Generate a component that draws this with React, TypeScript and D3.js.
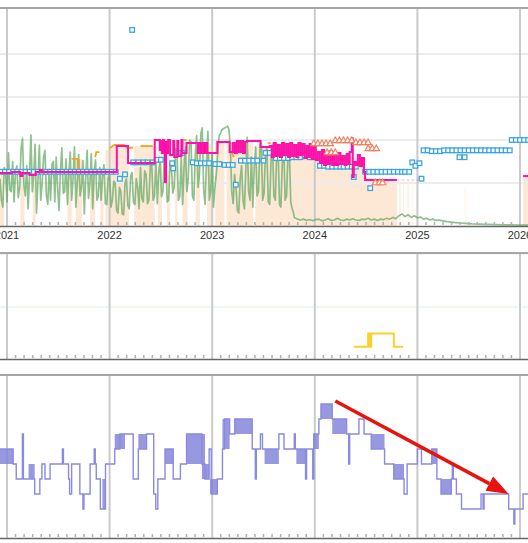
import React from 'react';
import * as d3 from 'd3';

type P = [number, number];

const yearTicks = [2021, 2022, 2023, 2024, 2025, 2026];
const yearLabels = ['2021', '2022', '2023', '2024', '2025', '2026'];
const topGridValues = [50, 100, 150, 200];
const midGridValues = [1, 2];

// green series: 5-day samples
const greenStartYear = 2020.932;
const greenStepDays = 5;
const greenValues = [
  55, 30, 22, 68, 60, 28, 85, 42, 40, 75, 28, 62, 70, 33, 45, 90, 102, 48, 35, 70, 20, 58, 106, 40, 60, 95, 15, 52, 94, 30, 50, 80, 88, 36, 25, 66, 30, 72, 75, 28,
  80, 45, 18, 64, 91, 38, 40, 78, 25, 60, 86, 30, 55, 92, 22, 50, 83, 35, 45, 76, 14, 55, 88, 32, 50, 84, 20, 62, 77, 30, 35, 68, 30, 58, 71, 26, 25, 56,
  60, 22, 30, 52, 50, 18, 15, 45, 40, 14, 13, 50, 55, 24, 20, 58, 62, 28, 25, 55, 45, 20, 68, 32, 28, 64, 60, 26, 30, 70, 72, 30, 35, 78, 26, 62, 75, 34,
  40, 84, 80, 28, 30, 72, 70, 38, 45, 90, 88, 30, 35, 80, 25, 68, 92, 40, 55, 100, 98, 35, 30, 82, 105, 45, 60, 108, 114, 42, 25, 75, 110, 30, 40, 85,
  22, 45, 60, 85, 105, 108, 112, 113, 114, 115, 116, 112, 90, 40, 26, 60, 45, 18, 15, 55, 70, 30, 20, 65, 103, 40, 30, 80, 22, 70, 92, 35, 40, 88, 98, 30,
  38, 85, 90, 28, 25, 78, 95, 35, 30, 86, 88, 25, 22, 75, 92, 30, 35, 82, 85, 28, 20, 15,
];
const greenTail: P[] = [
  [2023.80, 10], [2023.83, 8], [2023.86, 7], [2023.89, 8], [2023.92, 6.5], [2023.95, 7.5], [2023.98, 6], [2024.01, 7.5], [2024.04, 8], [2024.07, 6],
  [2024.10, 7], [2024.13, 8.5], [2024.16, 6.5], [2024.19, 7], [2024.22, 9], [2024.25, 7], [2024.28, 6.5], [2024.31, 8], [2024.34, 7], [2024.37, 8.5],
  [2024.40, 7], [2024.43, 6.5], [2024.46, 8], [2024.49, 7.5], [2024.52, 9], [2024.55, 7], [2024.58, 8], [2024.61, 6.5], [2024.64, 8], [2024.67, 7.5],
  [2024.70, 9], [2024.73, 8], [2024.76, 10], [2024.79, 8.5], [2024.82, 12], [2024.85, 14], [2024.88, 11], [2024.91, 13], [2024.94, 10], [2024.97, 12],
  [2025.00, 9.5], [2025.03, 10.5], [2025.06, 8], [2025.09, 9], [2025.12, 7], [2025.15, 8], [2025.18, 6.5], [2025.21, 7], [2025.25, 6], [2025.29, 5],
  [2025.33, 4.5], [2025.37, 4], [2025.42, 3.5], [2025.47, 3], [2025.53, 2.5], [2025.60, 2.2], [2025.68, 1.8], [2025.76, 1.5], [2025.84, 1.3], [2025.92, 1.2],
  [2026.00, 1], [2026.08, 1],
];

const peachSteps: P[] = [
  [2020.93, 63], [2020.97, 0], [2021.13, 63], [2021.17, 0], [2021.25, 63], [2021.28, 0], [2021.59, 63], [2021.63, 0],
  [2021.67, 78], [2021.73, 0], [2021.81, 63], [2021.86, 0], [2021.91, 63], [2021.94, 0],
  [2021.96, 88], [2022.00, 91], [2022.05, 94], [2022.17, 91], [2022.19, 0], [2022.24, 93], [2022.44, 0],
  [2022.47, 100], [2022.51, 0], [2022.56, 100], [2022.59, 0], [2022.64, 100], [2022.66, 0], [2022.71, 100], [2022.76, 0],
  [2022.84, 96], [2022.88, 0], [2022.95, 96], [2023.00, 0], [2023.03, 97], [2023.12, 0], [2023.14, 97], [2023.40, 0],
  [2023.42, 92], [2024.01, 80], [2024.49, 53.5], [2024.80, 0], [2026.03, 58], [2026.08, 58],
];
const peachFaintSteps: P[] = [
  [2024.80, 0], [2024.82, 53.5], [2024.84, 0], [2024.86, 53.5], [2024.87, 0], [2024.90, 53.5], [2024.92, 0], [2024.95, 53.5], [2024.96, 0],
  [2025.46, 45], [2025.47, 0], [2025.50, 0],
];

const orangeSegments: P[][] = [
  [[2021.63, 78], [2021.69, 78], [2021.69, 63]],
  [[2021.86, 80], [2021.87, 86], [2021.90, 86]],
  [[2022.00, 90.7], [2022.05, 94.2], [2022.14, 94.2], [2022.17, 91], [2022.23, 91]],
  [[2022.30, 93], [2022.42, 93]],
  [[2022.72, 100], [2022.75, 100]],
  [[2023.19, 85], [2023.21, 80]],
  [[2023.31, 96.5], [2023.33, 96.5]],
  [[2023.54, 96.5], [2023.57, 96.5]],
  [[2024.35, 86], [2024.37, 86]],
  [[2024.45, 74], [2024.47, 71]],
];

const pinkSegments: P[][] = [
  [
    [2020.93, 61.6], [2021.05, 62.8], [2021.13, 58.1], [2021.15, 61.6], [2021.22, 59.3], [2021.28, 62.8], [2021.32, 65.1], [2021.34, 62.8],
    [2022.07, 93], [2022.18, 73.3], [2022.44, 100], [2022.49, 88.4], [2022.50, 98.8], [2022.51, 84.9], [2022.52, 100], [2022.53, 84.9],
    [2022.54, 51.2], [2022.55, 97.7], [2022.56, 84.9], [2022.57, 100], [2022.59, 82.6], [2022.62, 98.8], [2022.63, 80.2], [2022.66, 98.8],
    [2022.67, 81.4], [2022.70, 100], [2022.71, 84.9], [2022.75, 96.5], [2022.86, 84.9], [2022.87, 96.5], [2022.89, 84.9], [2022.90, 96.5],
    [2022.92, 84.9], [2022.93, 96.5], [2022.95, 84.9], [2023.05, 97.7], [2023.17, 86], [2023.20, 96.5], [2023.22, 84.9], [2023.24, 98.8],
    [2023.26, 86], [2023.28, 98.8], [2023.30, 84.9], [2023.32, 97.7], [2023.34, 98.8], [2023.47, 91.9], [2023.56, 93],
    [2023.58, 80.2], [2023.60, 96.5], [2023.62, 81.4], [2023.64, 94.2], [2023.66, 80.2], [2023.68, 96.5], [2023.70, 82.6], [2023.72, 95.3],
    [2023.74, 80.2], [2023.76, 96.5], [2023.78, 81.4], [2023.80, 94.2], [2023.82, 80.2], [2023.84, 96.5], [2023.86, 82.6], [2023.88, 95.3],
    [2023.90, 79], [2023.92, 93], [2023.94, 80.2], [2023.95, 95.3], [2023.97, 77.9], [2023.99, 93], [2024.01, 76.7], [2024.03, 86],
    [2024.05, 73.3], [2024.07, 88.4], [2024.09, 70.9], [2024.11, 84.9], [2024.13, 72.1], [2024.15, 87.2], [2024.17, 70.9], [2024.19, 82.6],
    [2024.21, 70.9], [2024.23, 84.9], [2024.25, 72.1], [2024.27, 81.4], [2024.29, 70.9], [2024.31, 83.7], [2024.33, 72.1], [2024.34, 86],
    [2024.36, 102], [2024.37, 57], [2024.38, 74.4], [2024.40, 70.9], [2024.42, 82.6], [2024.44, 69.8], [2024.46, 79], [2024.48, 62.8],
    [2024.49, 53.5], [2024.80, 53.5],
  ],
  [[2026.03, 58.1], [2026.08, 58.1]],
];
const pinkFaint: P[] = [[2024.80, 53.5], [2025.04, 53.5]];

const blueSquares: P[] = [
  [2020.94, 63], [2020.98, 63], [2021.02, 63], [2021.06, 63], [2021.10, 63], [2021.14, 63], [2021.18, 63], [2021.22, 63], [2021.26, 63], [2021.30, 63],
  [2021.34, 63], [2021.38, 63], [2021.42, 63], [2021.46, 63], [2021.50, 63], [2021.54, 63], [2021.58, 63], [2021.62, 63], [2021.66, 63], [2021.70, 63],
  [2021.74, 63], [2021.78, 63], [2021.82, 63], [2021.86, 63], [2021.90, 63], [2021.94, 63], [2021.98, 63], [2022.02, 63], [2022.06, 63],
  [2022.10, 55], [2022.15, 60], [2022.22, 228],
  [2022.23, 74], [2022.28, 74], [2022.33, 74], [2022.37, 74], [2022.42, 74], [2022.46, 77], [2022.50, 77],
  [2022.61, 73], [2022.62, 67], [2022.67, 85], [2022.71, 85],
  [2022.81, 74], [2022.85, 73], [2022.89, 73], [2022.93, 73], [2022.97, 73],
  [2023.03, 72], [2023.07, 72], [2023.12, 71], [2023.16, 71], [2023.20, 71], [2023.23, 48],
  [2023.28, 76], [2023.32, 76], [2023.36, 76], [2023.40, 76], [2023.44, 76], [2023.50, 76], [2023.52, 85], [2023.56, 85],
  [2023.62, 79], [2023.66, 79], [2023.70, 79], [2023.74, 79], [2023.78, 80], [2023.82, 80], [2023.86, 80], [2023.90, 82], [2023.95, 80], [2023.99, 80],
  [2024.05, 70], [2024.09, 70], [2024.13, 69], [2024.17, 69], [2024.21, 69], [2024.25, 69], [2024.28, 69], [2024.32, 69], [2024.36, 69], [2024.40, 69],
  [2024.38, 57],
  [2024.49, 63], [2024.53, 63], [2024.57, 63], [2024.61, 63], [2024.65, 63], [2024.69, 63], [2024.73, 63], [2024.77, 63], [2024.81, 63], [2024.85, 63],
  [2024.88, 63], [2024.92, 63], [2024.54, 44],
  [2024.95, 74], [2024.98, 70], [2025.02, 73], [2025.04, 55],
  [2025.06, 88], [2025.10, 88], [2025.14, 87], [2025.18, 87], [2025.22, 87], [2025.26, 88], [2025.30, 88], [2025.34, 88], [2025.38, 88], [2025.42, 88],
  [2025.46, 88], [2025.50, 88], [2025.54, 88], [2025.58, 88], [2025.62, 88], [2025.66, 88], [2025.70, 88], [2025.74, 88], [2025.78, 88], [2025.82, 88],
  [2025.86, 88], [2025.90, 88],
  [2025.41, 80], [2025.46, 80],
  [2025.92, 100], [2025.96, 100], [2026.00, 100], [2026.04, 100], [2026.08, 100],
];

const triangles: P[] = [
  [2023.99, 96.5], [2024.03, 96.5], [2024.07, 96.5], [2024.11, 96.5], [2024.15, 96.5],
  [2024.12, 86], [2024.16, 86], [2024.20, 86],
  [2024.20, 100], [2024.24, 100], [2024.28, 100], [2024.32, 100], [2024.36, 100],
  [2024.40, 97.7], [2024.44, 97.7], [2024.48, 97.7], [2024.52, 97.7],
  [2024.52, 90.7], [2024.56, 90.7], [2024.60, 90.7],
  [2024.59, 51], [2024.63, 51], [2024.66, 51],
];

const yellowSteps: P[] = [[2024.38, 0.25], [2024.52, 0.5], [2024.535, 0.25], [2024.55, 0.5], [2024.77, 0.25], [2024.86, 0.25]];

const purpleSteps: P[] = [
  [2020.93, 6], [2021.06, 5], [2021.09, 4], [2021.15, 7], [2021.16, 4], [2021.27, 3], [2021.32, 4], [2021.34, 5], [2021.37, 4], [2021.42, 5],
  [2021.54, 6], [2021.55, 5], [2021.60, 4], [2021.61, 3], [2021.63, 5], [2021.71, 3], [2021.74, 2], [2021.75, 3], [2021.81, 5], [2021.85, 6],
  [2021.86, 5], [2021.87, 4], [2021.91, 2], [2021.96, 5], [2022.05, 6], [2022.10, 7], [2022.23, 4], [2022.28, 6], [2022.36, 7], [2022.43, 3],
  [2022.45, 2], [2022.47, 4], [2022.54, 6], [2022.62, 4], [2022.69, 5], [2022.75, 7], [2022.90, 5], [2022.93, 4], [2022.97, 6], [2022.99, 3],
  [2023.05, 4], [2023.10, 6], [2023.12, 8], [2023.17, 7], [2023.22, 8], [2023.39, 6], [2023.42, 4], [2023.43, 6], [2023.47, 7], [2023.49, 6],
  [2023.65, 7], [2023.70, 6], [2023.80, 7], [2023.81, 6], [2023.91, 4], [2023.92, 6], [2023.98, 4], [2023.99, 7], [2024.04, 8], [2024.06, 9],
  [2024.17, 8], [2024.31, 7], [2024.33, 5], [2024.34, 7], [2024.43, 8], [2024.48, 7], [2024.55, 6], [2024.68, 5], [2024.77, 4], [2024.87, 3],
  [2024.90, 5], [2025.00, 6], [2025.04, 5], [2025.14, 6], [2025.19, 4], [2025.23, 3], [2025.33, 4], [2025.34, 5], [2025.35, 4], [2025.38, 3],
  [2025.43, 2], [2025.62, 3], [2025.64, 2], [2025.65, 3], [2025.89, 2], [2025.94, 1], [2025.95, 2], [2026.03, 3], [2026.08, 3],
];
const purpleBlocks: [number, number, number, number][] = [
  [2020.93, 2021.06, 5, 6], [2021.21, 2021.27, 4, 5], [2021.93, 2021.96, 2, 4], [2022.05, 2022.15, 6, 7], [2022.28, 2022.36, 6, 7],
  [2022.54, 2022.62, 5, 6], [2022.75, 2022.93, 5, 7], [2022.90, 2022.97, 4, 5], [2022.98, 2023.05, 3, 4], [2023.10, 2023.17, 6, 8],
  [2023.22, 2023.39, 7, 8], [2023.51, 2023.65, 5, 6], [2023.82, 2023.92, 5, 6], [2023.99, 2024.04, 6, 7], [2024.06, 2024.17, 8, 9],
  [2024.17, 2024.31, 7, 8], [2024.55, 2024.68, 6, 7], [2024.77, 2024.87, 4, 5], [2025.14, 2025.19, 5, 6], [2025.23, 2025.33, 3, 4],
];
const arrowFrom: P = [2024.20, 9.2];
const arrowTo: P = [2025.89, 3.0];

export default function App() {
  const W = 528, H = 543;
  const x = d3.scaleLinear().domain([2021, 2026]).range([7, 520]);
  const yT = d3.scaleLinear().domain([0, 250]).range([226, 11]);
  const yM = d3.scaleLinear().domain([0, 2]).range([360, 254]);
  const yB = d3.scaleLinear().domain([0, 11]).range([539, 374]);

  const panels = [
    { id: 'pt', y0: 8, y1: 226 },
    { id: 'pm', y0: 253, y1: 359 },
    { id: 'pb', y0: 375, y1: 538 },
  ];

  const greenPts: P[] = greenValues
    .map((v, i) => [greenStartYear + (i * greenStepDays) / 365.25, v] as P)
    .concat(greenTail);

  const linT = d3.line<P>().x(d => x(d[0])).y(d => yT(d[1]));
  const stepT = d3.line<P>().x(d => x(d[0])).y(d => yT(d[1])).curve(d3.curveStepAfter);
  const areaT = d3.area<P>().x(d => x(d[0])).y0(yT(0)).y1(d => yT(d[1])).curve(d3.curveStepAfter);
  const stepM = d3.line<P>().x(d => x(d[0])).y(d => yM(d[1])).curve(d3.curveStepAfter);
  const stepB = d3.line<P>().x(d => x(d[0])).y(d => yB(d[1])).curve(d3.curveStepAfter);

  const minorTicks: number[] = [];
  for (let yr = 2020; yr <= 2026; yr++) {
    for (let m = 1; m < 12; m++) {
      const t = yr + m / 12;
      const px = x(t);
      if (px > 0 && px < W) minorTicks.push(t);
    }
  }

  const ax0 = x(arrowFrom[0]), ay0 = yB(arrowFrom[1]);
  const ax1 = x(arrowTo[0]), ay1 = yB(arrowTo[1]);
  const ang = Math.atan2(ay1 - ay0, ax1 - ax0);
  const headL = 22, headW = 8;
  const bx = ax1 - headL * Math.cos(ang), by = ay1 - headL * Math.sin(ang);
  const head = `M${ax1},${ay1}L${bx + headW * Math.sin(ang)},${by - headW * Math.cos(ang)}L${bx - headW * Math.sin(ang)},${by + headW * Math.cos(ang)}Z`;

  const font = "'Liberation Sans', Arial, sans-serif";

  return (
    <svg width={W} height={H} style={{ position: 'absolute', left: 0, top: 0, background: '#fff' }}>
      <defs>
        {panels.map(p => (
          <clipPath id={p.id} key={p.id}>
            <rect x={0} y={p.y0} width={W} height={p.y1 - p.y0} />
          </clipPath>
        ))}
      </defs>

      {/* TOP PANEL */}
      <g clipPath="url(#pt)">
        <path d={areaT(peachSteps) || ''} fill="#fde8d6" />
        <path d={areaT(peachFaintSteps) || ''} fill="#fde8d6" opacity={0.55} />
        {topGridValues.map(v => (
          <line key={v} x1={0} x2={W} y1={yT(v)} y2={yT(v)} stroke="#ececec" strokeWidth={2} />
        ))}
        {yearTicks.map(t => (
          <line key={t} x1={x(t)} x2={x(t)} y1={8} y2={226} stroke="#cacaca" strokeWidth={2} />
        ))}
        <path d={linT(greenPts) || ''} fill="none" stroke="#5aa45a" strokeOpacity={0.68} strokeWidth={1.7} strokeLinejoin="round" />
        {orangeSegments.map((s, i) => (
          <path key={i} d={linT(s) || ''} fill="none" stroke="#f7a21b" strokeWidth={1.8} />
        ))}
        {blueSquares.map((d, i) => (
          <rect key={i} x={x(d[0]) - 2.3} y={yT(d[1]) - 2.3} width={4.6} height={4.6} fill="#fff" stroke="#3aa6e0" strokeWidth={1.3} />
        ))}
        {pinkSegments.map((s, i) => (
          <path key={i} d={stepT(s) || ''} fill="none" stroke="#ff10a8" strokeWidth={2} />
        ))}
        <path d={linT(pinkFaint) || ''} fill="none" stroke="#ff10a8" strokeOpacity={0.25} strokeWidth={1.5} strokeDasharray="2 3" />
        {triangles.map((d, i) => (
          <path key={i} d={`M${x(d[0])},${yT(d[1]) - 3}L${x(d[0]) + 3.2},${yT(d[1]) + 2.6}L${x(d[0]) - 3.2},${yT(d[1]) + 2.6}Z`} fill="#fff" stroke="#f4805e" strokeWidth={1.2} />
        ))}
        {minorTicks.map(t => (
          <line key={t} x1={x(t)} x2={x(t)} y1={222} y2={225} stroke="#b0b0b0" strokeWidth={1.5} />
        ))}
      </g>
      <line x1={0} x2={W} y1={8} y2={8} stroke="#a6a6a6" strokeWidth={2} />
      <line x1={0} x2={W} y1={226.5} y2={226.5} stroke="#666" strokeWidth={1.5} />
      {yearTicks.map((t, i) => (
        <text key={t} x={x(t)} y={239} textAnchor="middle" fontSize={11} fontFamily={font} fill="#333">{yearLabels[i]}</text>
      ))}

      {/* MIDDLE PANEL */}
      <g clipPath="url(#pm)">
        {midGridValues.map(v => (
          <line key={v} x1={0} x2={W} y1={yM(v)} y2={yM(v)} stroke="#eaf6ea" strokeWidth={1.5} />
        ))}
        {yearTicks.map(t => (
          <line key={t} x1={x(t)} x2={x(t)} y1={253} y2={359} stroke="#cacaca" strokeWidth={2} />
        ))}
        <path d={stepM(yellowSteps) || ''} fill="none" stroke="#f8d22c" strokeWidth={2} />
        {minorTicks.map(t => (
          <line key={t} x1={x(t)} x2={x(t)} y1={355} y2={358} stroke="#b0b0b0" strokeWidth={1.5} />
        ))}
      </g>
      <line x1={0} x2={W} y1={253} y2={253} stroke="#a6a6a6" strokeWidth={2} />
      <line x1={0} x2={W} y1={359.5} y2={359.5} stroke="#666" strokeWidth={1.5} />

      {/* BOTTOM PANEL */}
      <g clipPath="url(#pb)">
        {yearTicks.map(t => (
          <line key={t} x1={x(t)} x2={x(t)} y1={375} y2={538} stroke="#cacaca" strokeWidth={2} />
        ))}
        {purpleBlocks.map((b, i) => (
          <rect key={i} x={x(b[0])} y={yB(b[3])} width={x(b[1]) - x(b[0])} height={yB(b[2]) - yB(b[3])} fill="#8686dc" opacity={0.85} />
        ))}
        <path d={stepB(purpleSteps) || ''} fill="none" stroke="#8a8ae0" strokeWidth={1.4} />
        {minorTicks.map(t => (
          <line key={t} x1={x(t)} x2={x(t)} y1={534} y2={537} stroke="#b0b0b0" strokeWidth={1.5} />
        ))}
        <line x1={ax0} y1={ay0} x2={bx} y2={by} stroke="#e8120e" strokeWidth={3.5} />
        <path d={head} fill="#e8120e" />
      </g>
      <line x1={0} x2={W} y1={375} y2={375} stroke="#a6a6a6" strokeWidth={2} />
      <line x1={0} x2={W} y1={538.5} y2={538.5} stroke="#666" strokeWidth={1.5} />
    </svg>
  );
}
